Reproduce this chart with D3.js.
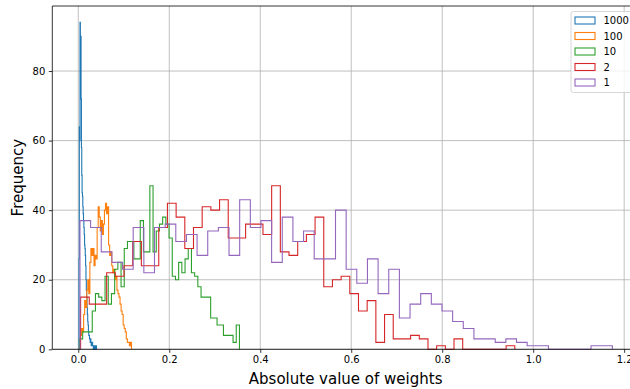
<!DOCTYPE html>
<html>
<head>
<meta charset="utf-8">
<script src="https://cdn.jsdelivr.net/npm/d3@7"></script>
<style>
  html, body { margin: 0; padding: 0; background: #fff; }
  svg { display: block; font-family: "DejaVu Sans", sans-serif; }
</style>
</head>
<body>
<svg id="chart" width="630" height="389"></svg>
<script>
// ---- data ----
const seriesLabels = ["1000", "100", "10", "2", "1"];
// value range covered by each histogram's 50 bins
const range1000 = [0.0015, 0.0400];
const range100 = [0.0026, 0.1170];
const range10 = [0.0026, 0.3543];
const range2 = [0.0051, 0.9596];
const range1 = [0.0037, 1.1740];

const counts1000 = [26, 64, 60, 94, 88, 90, 72, 58, 50, 45, 44, 41, 39, 37, 35, 33, 30, 29, 27, 24,
  20, 17, 15, 12, 10, 8, 7, 5, 4, 4, 3, 3, 2, 3, 2, 1, 2, 1, 2, 1,
  1, 0, 1, 1, 0, 1, 0, 1, 0, 1];
const counts100 = [1, 4, 6, 5, 10, 14, 12, 17, 20, 16, 25, 29, 27, 29, 24, 27, 26, 35, 41, 38,
  34, 37, 33, 36, 40, 42, 39, 41, 30, 27, 28, 24, 22, 23, 20, 21, 17, 16, 15, 13,
  11, 10, 7, 6, 5, 3, 2, 2, 1, 2];
const counts10 = [3, 5, 5, 5, 11, 16, 15, 14, 21, 13, 16, 23, 25, 18, 29, 31, 31, 26, 26, 37,
  28, 28, 47, 28, 34, 36, 38, 36, 32, 21, 20, 25, 22, 26, 29, 22, 21, 18, 15, 15,
  15, 9, 9, 7, 7, 4, 4, 4, 2, 7];
const counts2 = [15, 13, 13, 22, 21, 24, 31, 24, 24, 35, 42, 38, 29, 35, 41, 40, 43, 32, 32, 36,
  36, 33, 47, 28, 27, 31, 33, 38, 18, 20, 21, 16, 11, 14, 2, 10, 3, 3, 4, 3,
  0, 1, 0, 3, 0, 0, 0, 0, 0, 1];
const counts1 = [37, 35, 28, 25, 23, 35, 22, 35, 36, 31, 33, 27, 34, 35, 27, 43, 35, 37, 25, 38,
  31, 34, 26, 26, 40, 23, 19, 26, 16, 23, 9, 13, 16, 13, 11, 8, 6, 3, 3, 2,
  3, 2, 1, 1, 0, 0, 0, 0, 1, 1];

const xTicks = [0.0, 0.2, 0.4, 0.6, 0.8, 1.0, 1.2];
const yTicks = [0, 20, 40, 60, 80];
const xLabel = "Absolute value of weights";
const yLabel = "Frequency";

// ---- styles ----
const colors = ["#1f77b4", "#ff7f0e", "#2ca02c", "#d62728", "#9467bd"];
const series = [
  { label: seriesLabels[0], range: range1000, counts: counts1000, color: colors[0] },
  { label: seriesLabels[1], range: range100, counts: counts100, color: colors[1] },
  { label: seriesLabels[2], range: range10, counts: counts10, color: colors[2] },
  { label: seriesLabels[3], range: range2, counts: counts2, color: colors[3] },
  { label: seriesLabels[4], range: range1, counts: counts1, color: colors[4] }
];

const svg = d3.select("#chart");
const L = 52.3, R = 639, T = 6, B = 349.3;

const x = d3.scaleLinear().domain([-0.0571, 1.2326]).range([L, R]);
const y = d3.scaleLinear().domain([0, 98.7]).range([B, T]);

// grid
const grid = svg.append("g");
grid.selectAll("line.gx").data(xTicks).enter().append("line")
  .attr("x1", d => x(d)).attr("x2", d => x(d)).attr("y1", T).attr("y2", B)
  .attr("stroke", "#b0b0b0").attr("stroke-width", 0.8);
grid.selectAll("line.gy").data(yTicks).enter().append("line")
  .attr("x1", L).attr("x2", R).attr("y1", d => y(d)).attr("y2", d => y(d))
  .attr("stroke", "#b0b0b0").attr("stroke-width", 0.8);

// histograms (step outlines)
const line = d3.line().x(d => x(d[0])).y(d => y(d[1]));
series.forEach(s => {
  const n = s.counts.length;
  const [lo, hi] = s.range;
  const w = (hi - lo) / n;
  const pts = [[lo, 0]];
  s.counts.forEach((c, i) => {
    pts.push([lo + i * w, c]);
    pts.push([lo + (i + 1) * w, c]);
  });
  pts.push([hi, 0]);
  svg.append("path")
    .attr("d", line(pts))
    .attr("fill", "none")
    .attr("stroke", s.color)
    .attr("stroke-width", 1.1)
    .attr("stroke-linejoin", "miter");
});

// axes
const xAxis = svg.append("g").attr("transform", `translate(0,${B})`)
  .call(d3.axisBottom(x).tickValues(xTicks).tickFormat(d3.format(".1f")).tickSize(3.5).tickPadding(3.5));
const yAxis = svg.append("g").attr("transform", `translate(${L},0)`)
  .call(d3.axisLeft(y).tickValues(yTicks).tickFormat(d3.format("d")).tickSize(3.5).tickPadding(3.5));
[xAxis, yAxis].forEach(a => {
  a.select(".domain").remove();
  a.selectAll(".tick line").attr("stroke", "#000").attr("stroke-width", 0.8);
  a.selectAll(".tick text").attr("fill", "#000").style("font-size", "10px")
    .style("font-family", "'DejaVu Sans', sans-serif");
});

// spines
svg.append("line").attr("x1", L).attr("x2", L).attr("y1", T).attr("y2", B).attr("stroke", "#000").attr("stroke-width", 0.8);
svg.append("line").attr("x1", L).attr("x2", R).attr("y1", T).attr("y2", T).attr("stroke", "#000").attr("stroke-width", 0.8);
svg.append("line").attr("x1", L).attr("x2", R).attr("y1", B).attr("y2", B).attr("stroke", "#000").attr("stroke-width", 0.8);
svg.append("line").attr("x1", R).attr("x2", R).attr("y1", T).attr("y2", B).attr("stroke", "#000").attr("stroke-width", 0.8);

// axis labels
svg.append("text").attr("x", (L + R) / 2).attr("y", 383.5).attr("text-anchor", "middle")
  .style("font-size", "15px").attr("fill", "#000").text(xLabel);
svg.append("text").attr("transform", `translate(23,${(T + B) / 2}) rotate(-90)`).attr("text-anchor", "middle")
  .style("font-size", "15px").attr("fill", "#000").text(yLabel);

// legend
const lg = svg.append("g");
lg.append("rect").attr("x", 571).attr("y", 11.5).attr("width", 64).attr("height", 81)
  .attr("rx", 2.5).attr("fill", "#fff").attr("fill-opacity", 0.8).attr("stroke", "#cccccc").attr("stroke-width", 0.8);
series.forEach((s, i) => {
  const cy = 20.5 + i * 15.5;
  lg.append("rect").attr("x", 575).attr("y", cy - 3.5).attr("width", 20).attr("height", 7)
    .attr("fill", "none").attr("stroke", s.color).attr("stroke-width", 1.1);
  lg.append("text").attr("x", 603.5).attr("y", cy).attr("dy", "0.36em")
    .style("font-size", "10px").attr("fill", "#000").text(s.label);
});
</script>
</body>
</html>
